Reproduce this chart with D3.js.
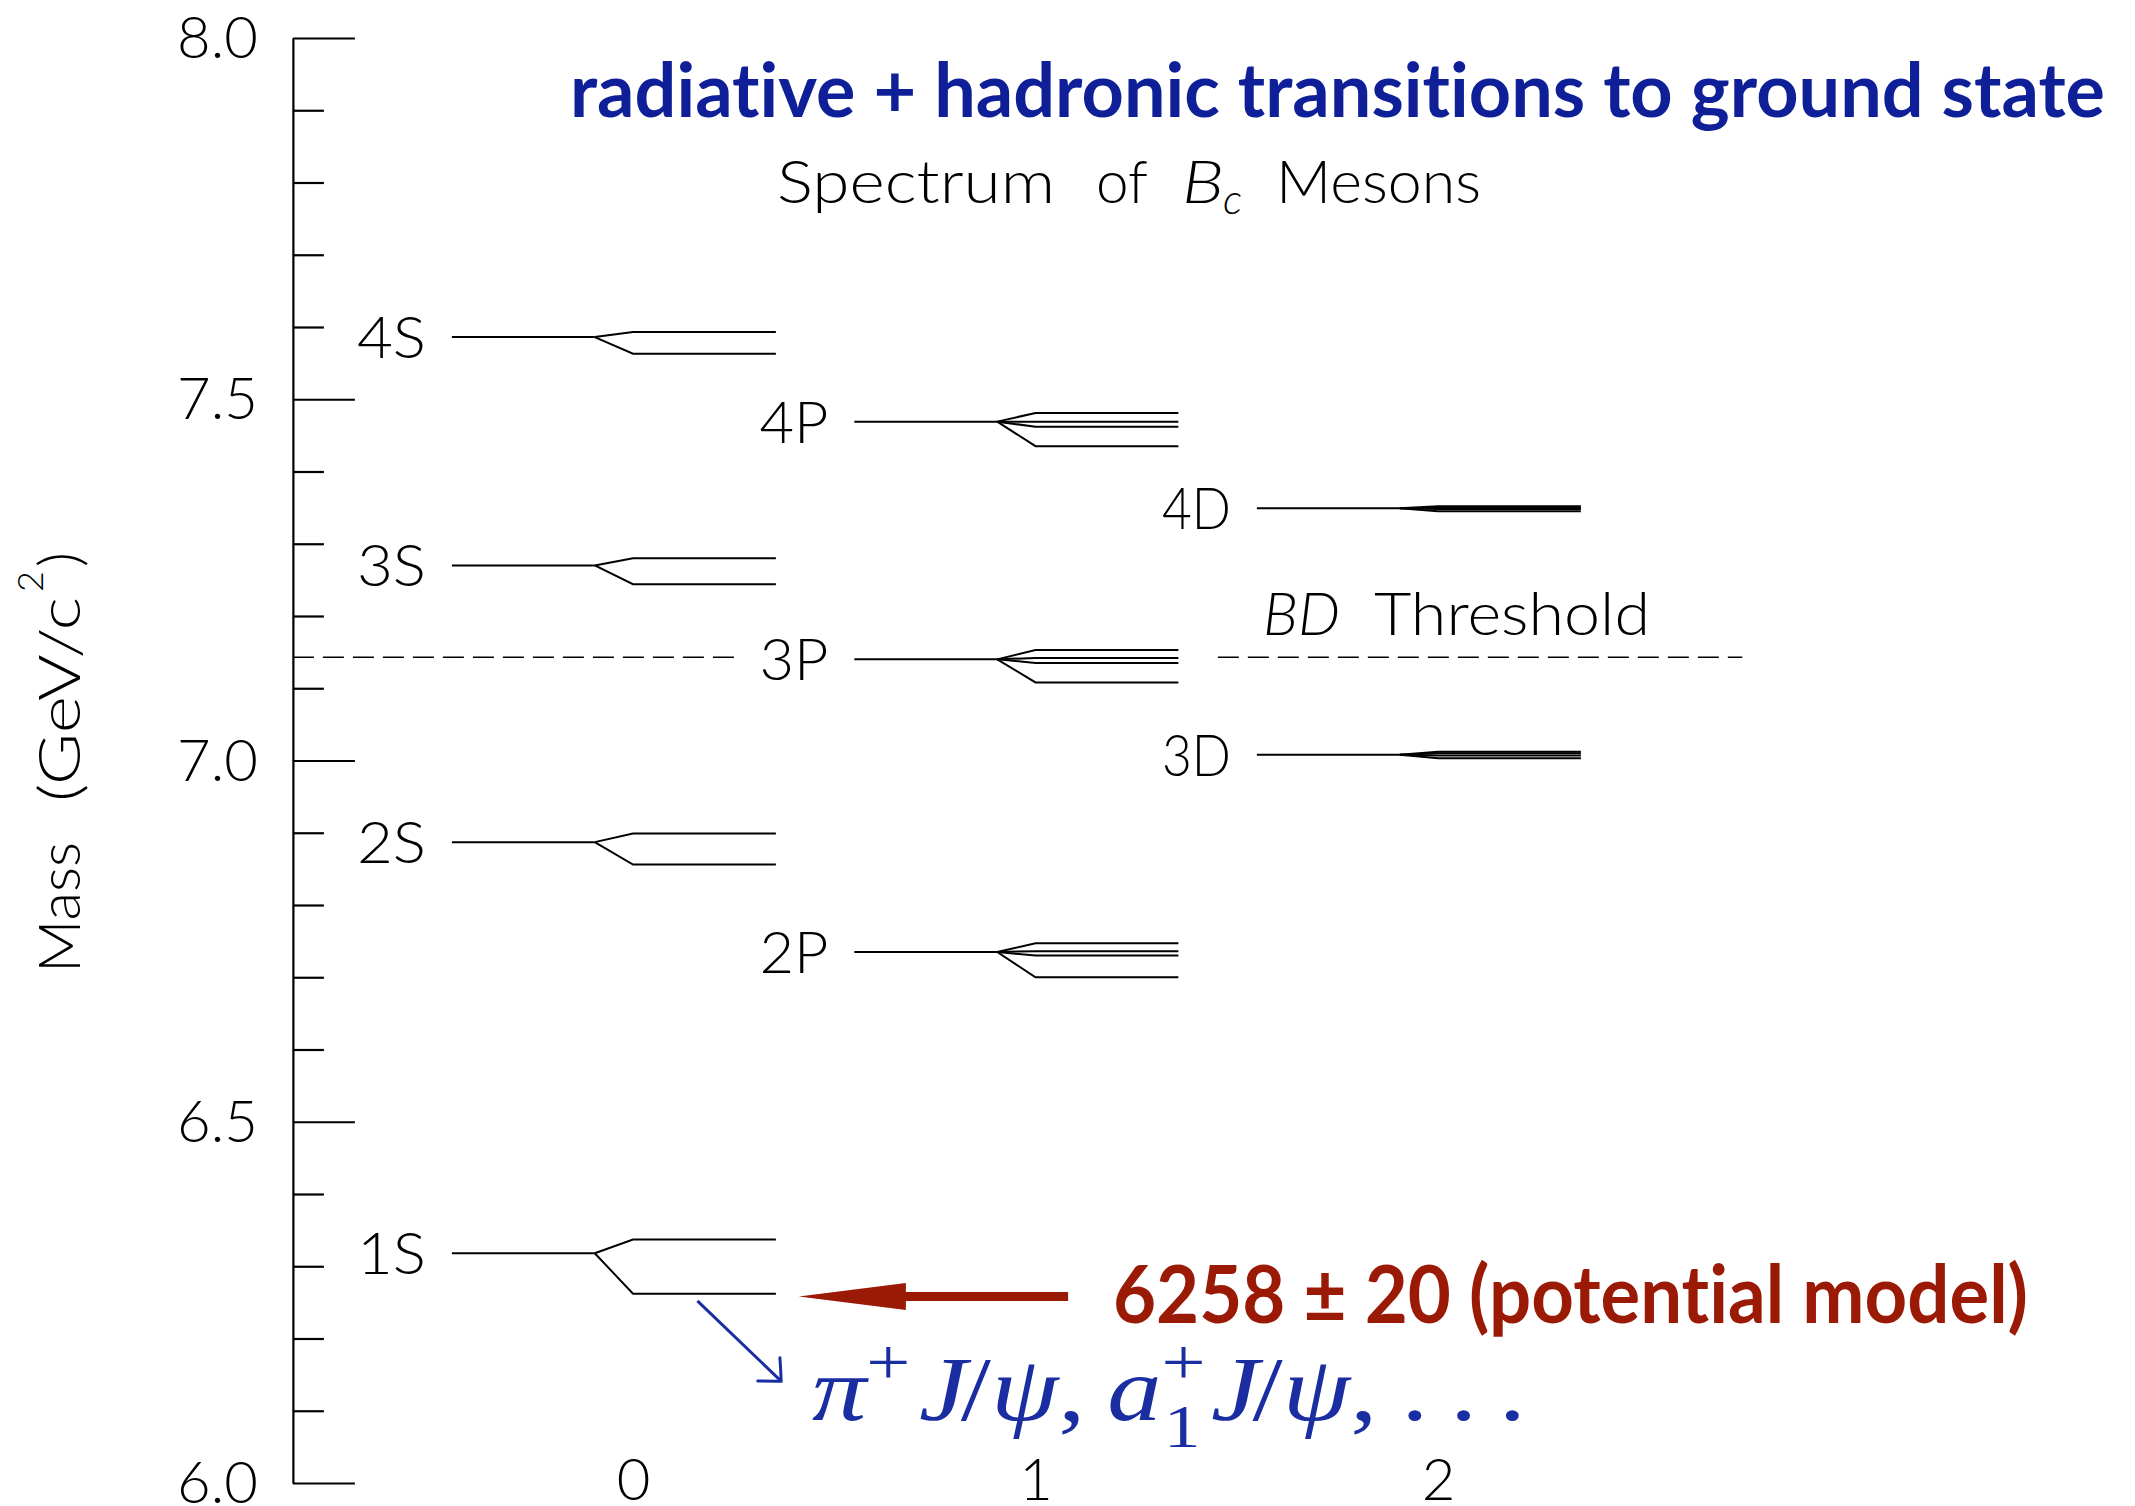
<!DOCTYPE html>
<html>
<head>
<meta charset="utf-8">
<script src="https://cdn.jsdelivr.net/npm/d3@7"></script>
<style>
  html, body { margin: 0; padding: 0; background: #fff; }
  svg { display: block; }
  text { font-variant-ligatures: none; }
</style>
</head>
<body>
<svg id="chart" width="2135" height="1506"></svg>
<script>
// ---- Bc meson spectrum (masses in GeV/c^2) ----
// column: 0 = S-waves, 1 = P-waves, 2 = D-waves
const levelNames     = ["1S", "2S", "3S", "4S", "2P", "3P", "4P", "3D", "4D"];
const levelColumns   = [0, 0, 0, 0, 1, 1, 1, 2, 2];
const levelCentroids = [6.318, 6.887, 7.270, 7.586, 6.735, 7.140, 7.469, 7.008, 7.349];
const levelSplittings = [
  [6.262, 6.337],
  [6.856, 6.899],
  [7.244, 7.280],
  [7.563, 7.593],
  [6.700, 6.730, 6.736, 6.747],
  [7.108, 7.135, 7.142, 7.153],
  [7.435, 7.462, 7.469, 7.481],
  [7.003, 7.007, 7.010, 7.012],
  [7.345, 7.348, 7.350, 7.352]
];

// BD threshold (GeV/c^2) and the column spans where the dashed line is drawn
const thresholdMass = 7.143;
const thresholdSpans = [[-0.845, 0.254], [1.453, 2.756]];

// axis ticks
const xTickValues  = [0, 1, 2];
const yMajorTicks  = [6.0, 6.5, 7.0, 7.5, 8.0];
const yMinorTicks  = [6.1, 6.2, 6.3, 6.4, 6.6, 6.7, 6.8, 6.9, 7.1, 7.2, 7.3, 7.4, 7.6, 7.7, 7.8, 7.9];

// ground state prediction
const groundStateMass  = 6.258;
const groundStateLabel = "6258 ± 20 (potential model)";

// ---- layout ----
const W = 2135, H = 1506;
const svg = d3.select("#chart");
svg.append("rect").attr("width", W).attr("height", H).attr("fill", "#fff");

const x = d3.scaleLinear().domain([0, 2]).range([633, 1438]);
const y = d3.scaleLinear().domain([6, 8]).range([1483, 38]);
const yAxisAt = -0.845;          // column coordinate of the mass axis

const lightFont = "Lato, 'Open Sans', 'Noto Sans', sans-serif";
const boldFont  = "Lato, 'Open Sans', 'Noto Sans', sans-serif";
const mathFont  = "'Liberation Serif', 'DejaVu Serif', serif";
const BLUE = "#0e1f98";
const MATHBLUE = "#1a2ea2";
const RED = "#9a1a06";

// ---- mass axis ----
const gMajor = svg.append("g")
  .attr("transform", `translate(${x(yAxisAt)},0)`)
  .call(d3.axisLeft(y).tickValues(yMajorTicks)
    .tickSizeInner(-62).tickSizeOuter(0).tickPadding(35)
    .tickFormat(d3.format(".1f")));
gMajor.attr("font-family", lightFont).attr("font-size", 58).attr("font-weight", 300);
gMajor.select(".domain").attr("stroke", "#000").attr("stroke-width", 2.2);
gMajor.selectAll(".tick line").attr("stroke", "#000").attr("stroke-width", 2.2);
gMajor.selectAll(".tick text").attr("fill", "#000").attr("dy", "0.34em");

const gMinor = svg.append("g")
  .attr("transform", `translate(${x(yAxisAt)},0)`)
  .call(d3.axisLeft(y).tickValues(yMinorTicks)
    .tickSizeInner(-31).tickSizeOuter(0).tickFormat(""));
gMinor.select(".domain").remove();
gMinor.selectAll(".tick line").attr("stroke", "#000").attr("stroke-width", 2.2);

// column labels along the bottom (no axis line)
const gx = svg.append("g")
  .attr("transform", `translate(0,${y(6.0) - 3})`)
  .call(d3.axisBottom(x).tickValues(xTickValues).tickSize(0).tickPadding(0)
    .tickFormat(d3.format("d")));
gx.select(".domain").remove();
gx.attr("font-family", lightFont).attr("font-size", 58).attr("font-weight", 300);
gx.selectAll(".tick text").attr("fill", "#000").attr("dy", "0.34em");

// mass axis title
const yTitle = svg.append("g")
  .attr("transform", `translate(80,973) rotate(-90)`)
  .attr("font-family", lightFont).attr("font-weight", 300).attr("fill", "#000");
yTitle.append("text").attr("x", 0).attr("font-size", 58)
  .attr("textLength", 131).attr("lengthAdjust", "spacingAndGlyphs").text("Mass");
yTitle.append("text").attr("x", 171).attr("font-size", 58)
  .attr("textLength", 205).attr("lengthAdjust", "spacingAndGlyphs").text("(GeV/c");
yTitle.append("text").attr("x", 381).attr("y", -37).attr("font-size", 36).text("2");
yTitle.append("text").attr("x", 406).attr("font-size", 58).text(")");

// ---- BD threshold ----
svg.append("g").selectAll("line")
  .data(thresholdSpans)
  .join("line")
  .attr("x1", d => x(d[0])).attr("x2", d => x(d[1]))
  .attr("y1", y(thresholdMass)).attr("y2", y(thresholdMass))
  .attr("stroke", "#000").attr("stroke-width", 1.6)
  .attr("stroke-dasharray", "21,9");

const thrLabel = svg.append("g").attr("font-family", lightFont).attr("font-weight", 300)
  .attr("font-size", 60).attr("fill", "#000");
thrLabel.append("text").attr("x", 1263).attr("y", y(thresholdMass) - 22)
  .attr("font-style", "italic").attr("textLength", 77).attr("lengthAdjust", "spacingAndGlyphs").text("BD");
thrLabel.append("text").attr("x", 1374).attr("y", y(thresholdMass) - 22)
  .attr("textLength", 276).attr("lengthAdjust", "spacingAndGlyphs").text("Threshold");

// ---- energy levels ----
const levels = levelNames.map((name, i) => ({
  name, col: levelColumns[i], m: levelCentroids[i], parts: levelSplittings[i]
}));
// horizontal geometry of each multiplet, in column units
const G = { start: -0.45, split: -0.095, fan: 0, end: 0.355 };

const gLev = svg.append("g").attr("fill", "none").attr("stroke", "#000")
  .attr("stroke-width", 2).attr("stroke-linejoin", "miter");
gLev.selectAll("path.centroid")
  .data(levels)
  .join("path")
  .attr("class", "centroid")
  .attr("d", d => `M${x(d.col + G.start)},${y(d.m)}H${x(d.col + G.split)}`);
gLev.selectAll("path.split")
  .data(levels.flatMap(d => d.parts.map(p => ({ col: d.col, m: d.m, p }))))
  .join("path")
  .attr("class", "split")
  .attr("d", d => `M${x(d.col + G.split)},${y(d.m)}L${x(d.col + G.fan)},${y(d.p)}H${x(d.col + G.end)}`);

svg.append("g").attr("font-family", lightFont).attr("font-weight", 300)
  .attr("font-size", 58).attr("fill", "#000")
  .selectAll("text")
  .data(levels)
  .join("text")
  .attr("x", d => x(d.col + G.start) - 26)
  .attr("y", d => y(d.m))
  .attr("dy", "0.36em")
  .attr("text-anchor", "end")
  .attr("textLength", 69).attr("lengthAdjust", "spacingAndGlyphs")
  .text(d => d.name);

// ---- titles ----
svg.append("text")
  .attr("x", 570).attr("y", 117)
  .attr("font-family", boldFont).attr("font-weight", 700).attr("font-size", 74)
  .attr("fill", BLUE)
  .attr("textLength", 1535).attr("lengthAdjust", "spacingAndGlyphs")
  .text("radiative + hadronic transitions to ground state");

const sub = svg.append("g").attr("font-family", lightFont).attr("font-weight", 300)
  .attr("font-size", 60).attr("fill", "#000");
sub.append("text").attr("x", 777).attr("y", 203)
  .attr("textLength", 278).attr("lengthAdjust", "spacingAndGlyphs").text("Spectrum");
sub.append("text").attr("x", 1096).attr("y", 203)
  .attr("textLength", 52).attr("lengthAdjust", "spacingAndGlyphs").text("of");
sub.append("text").attr("x", 1182).attr("y", 203).attr("font-style", "italic")
  .attr("textLength", 42).attr("lengthAdjust", "spacingAndGlyphs").text("B");
sub.append("text").attr("x", 1223).attr("y", 214).attr("font-style", "italic")
  .attr("font-size", 42).text("c");
sub.append("text").attr("x", 1276).attr("y", 203)
  .attr("textLength", 205).attr("lengthAdjust", "spacingAndGlyphs").text("Mesons");

// ---- ground state arrow and label ----
const gy = y(groundStateMass);
const arrow = { tip: 0.412, base: 0.678, tail: 1.081 };
svg.append("line")
  .attr("x1", x(arrow.base) - 2).attr("x2", x(arrow.tail))
  .attr("y1", gy).attr("y2", gy)
  .attr("stroke", RED).attr("stroke-width", 9);
svg.append("path")
  .attr("d", `M${x(arrow.tip)},${gy}L${x(arrow.base)},${gy - 13.5}L${x(arrow.base)},${gy + 13.5}Z`)
  .attr("fill", RED);
svg.append("text")
  .attr("x", 1113).attr("y", gy + 26)
  .attr("font-family", boldFont).attr("font-weight", 700).attr("font-size", 80)
  .attr("fill", RED)
  .attr("textLength", 915).attr("lengthAdjust", "spacingAndGlyphs")
  .text(groundStateLabel);

// ---- decay-mode arrow ----
const decayFrom = [0.16, 6.252], decayTo = [0.368, 6.141];
const p0 = [x(decayFrom[0]), y(decayFrom[1])];
const p1 = [x(decayTo[0]), y(decayTo[1])];
svg.append("line")
  .attr("x1", p0[0]).attr("y1", p0[1]).attr("x2", p1[0]).attr("y2", p1[1])
  .attr("stroke", MATHBLUE).attr("stroke-width", 3);
{
  const dx = p1[0] - p0[0], dy = p1[1] - p0[1], L = Math.hypot(dx, dy);
  const u = [dx / L, dy / L], n = [-u[1], u[0]];
  const pt = (a, b) => [p1[0] + a * u[0] + b * n[0], p1[1] + a * u[1] + b * n[1]];
  const e1 = pt(-17, 16), c1 = pt(-5, 5), e2 = pt(-17, -16), c2 = pt(-5, -5);
  svg.append("path")
    .attr("d", `M${e1}Q${c1} ${p1}Q${c2} ${e2}`)
    .attr("fill", "none").attr("stroke", MATHBLUE).attr("stroke-width", 3)
    .attr("stroke-linecap", "round");
}

// ---- decay modes written as math ----
{
  const F = 90;
  const runs = [
    { t: "π", it: true }, { sup: "+", gap: 0.08 },
    { t: "J", it: true }, { t: "/", kern: -0.06 }, { t: "ψ", it: true }, { t: ",", gap: 0.2 },
    { t: "a", it: true }, { sup: "+", sub: "1", gap: 0.05 },
    { t: "J", it: true }, { t: "/", kern: -0.06 }, { t: "ψ", it: true }, { t: ",", gap: 0.22 },
    { t: ".", gap: 0.2 }, { t: ".", gap: 0.2 }, { t: "." }
  ];
  const g = svg.append("g").attr("font-family", mathFont).attr("fill", MATHBLUE);
  let cx = 0;
  const base = 0;
  runs.forEach(r => {
    if (r.kern) cx += r.kern * F;
    if (r.t !== undefined) {
      const el = g.append("text").attr("x", cx).attr("y", base).attr("font-size", F)
        .attr("font-style", r.it ? "italic" : "normal").text(r.t);
      cx += el.node().getComputedTextLength();
    } else {
      let w = 0;
      if (r.sup) {
        const el = g.append("text").attr("x", cx).attr("y", base - 0.40 * F)
          .attr("font-size", 0.72 * F).text(r.sup);
        w = Math.max(w, el.node().getComputedTextLength());
      }
      if (r.sub) {
        const el = g.append("text").attr("x", cx + 2).attr("y", base + 0.30 * F)
          .attr("font-size", 0.68 * F).text(r.sub);
        w = Math.max(w, el.node().getComputedTextLength());
      }
      cx += w;
    }
    if (r.gap) cx += r.gap * F;
  });
  const targetW = 714;
  g.attr("transform", `translate(812,1420) scale(${targetW / cx},1)`);
}
</script>
</body>
</html>
